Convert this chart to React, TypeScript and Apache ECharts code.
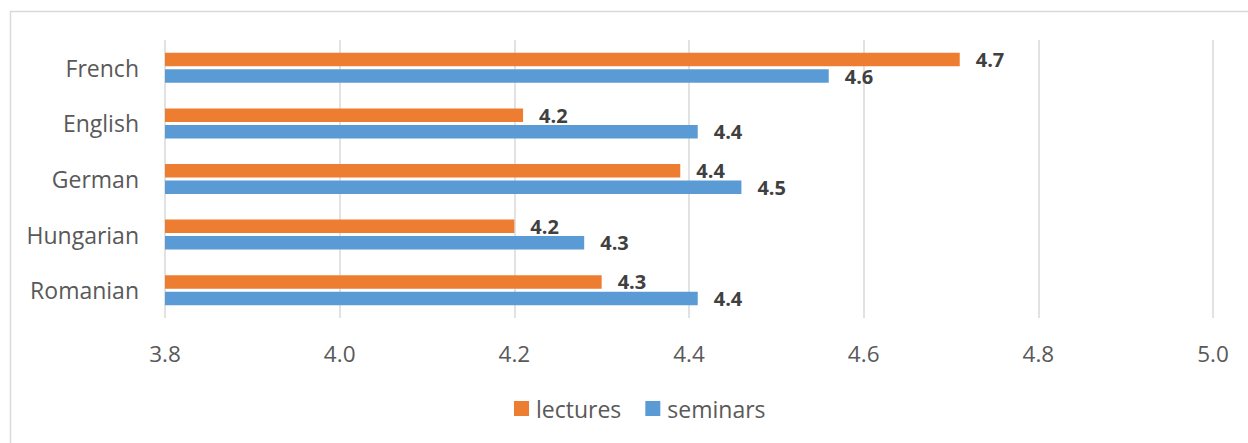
import React, { useEffect, useRef } from "react";
import * as echarts from "echarts";

const categories = ["French", "English", "German", "Hungarian", "Romanian"];
const lectures = [4.71, 4.21, 4.39, 4.2, 4.3];
const seminars = [4.56, 4.41, 4.46, 4.28, 4.41];
const axisMin = 3.8;
const axisMax = 5.0;
const axisStep = 0.2;

const FONT = "'Open Sans', 'Noto Sans', sans-serif";

export default function App() {
  const ref = useRef<HTMLDivElement>(null);
  useEffect(() => {
    if (!ref.current) return;
    const chart = echarts.init(ref.current, undefined, { renderer: "svg" });
    const labelCfg = {
      show: true,
      position: "right",
      distance: 16,
      color: "#404040",
      fontWeight: "bold",
      fontSize: 20,
      fontFamily: FONT,
      formatter: (p: any) => Number(p.value).toFixed(1),
    };
    chart.setOption({
      animation: false,
      backgroundColor: "#ffffff",
      textStyle: { fontFamily: FONT },
      graphic: [
        {
          type: "rect",
          shape: { x: 10.5, y: 11.5, width: 1400, height: 600 },
          style: { fill: "none", stroke: "#d9d9d9", lineWidth: 1.5 },
          silent: true,
          z: 0,
        },
      ],
      grid: { left: 165, right: 35, top: 40, height: 278, containLabel: false },
      legend: {
        bottom: 18,
        left: 509,
        itemWidth: 15,
        itemHeight: 15,
        itemGap: 24,
        icon: "rect",
        textStyle: { color: "#595959", fontSize: 23, fontFamily: FONT, padding: [0, 0, 0, 2] },
        data: ["lectures", "seminars"],
      },
      xAxis: {
        type: "value",
        min: axisMin,
        max: axisMax,
        interval: axisStep,
        axisLine: { show: false },
        axisTick: { show: false },
        splitLine: { show: true, lineStyle: { color: "#d9d9d9", width: 1.5 } },
        axisLabel: {
          color: "#595959",
          fontSize: 22.5,
          fontFamily: FONT,
          margin: 24,
          formatter: (v: number) => v.toFixed(1),
        },
      },
      yAxis: {
        type: "category",
        data: categories,
        inverse: true,
        axisLine: { show: false },
        axisTick: { show: false },
        axisLabel: { color: "#595959", fontSize: 23, fontFamily: FONT, margin: 26 },
      },
      series: [
        {
          name: "lectures",
          type: "bar",
          data: lectures,
          barWidth: 13.5,
          barGap: "22%",
          itemStyle: { color: "#ED7D31" },
          label: labelCfg,
        },
        {
          name: "seminars",
          type: "bar",
          data: seminars,
          barWidth: 13.5,
          barGap: "22%",
          itemStyle: { color: "#5B9BD5" },
          label: labelCfg,
        },
      ],
    });
    return () => chart.dispose();
  }, []);
  return (
    <div
      ref={ref}
      style={{ position: "absolute", left: 0, top: 0, width: 1248, height: 443 }}
    />
  );
}
